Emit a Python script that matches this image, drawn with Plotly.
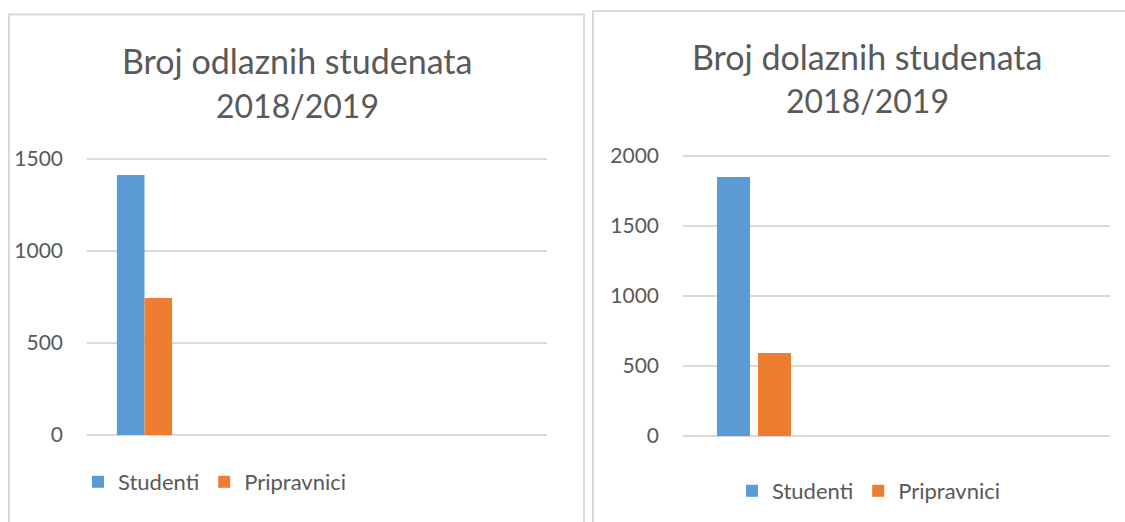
import plotly.graph_objects as go

W, H = 1125, 522

# ---- data ----
series_names = ["Studenti", "Pripravnici"]
left_title = ["Broj odlaznih studenata", "2018/2019"]
right_title = ["Broj dolaznih studenata", "2018/2019"]
category_pos = [0]                      # first (only filled) category slot
left_studenti = [1413]
left_pripravnici = [745]
right_studenti = [1850]
right_pripravnici = [593]
left_ticks = [0, 500, 1000, 1500]
right_ticks = [0, 500, 1000, 1500, 2000]

# ---- styles ----
BLUE = "#5B9BD5"
ORANGE = "#ED7D31"
TEXT = "#595959"
GRID = "#D9D9D9"
FONT = "Lato"


def px(x):
    return x / W


def py(y):
    return 1 - y / H


fig = go.Figure()
fig.add_trace(go.Bar(x=category_pos, y=left_studenti, name=series_names[0],
                     marker=dict(color=BLUE, line=dict(width=0)),
                     width=0.24, offset=-0.24, xaxis="x", yaxis="y", legend="legend"))
fig.add_trace(go.Bar(x=category_pos, y=left_pripravnici, name=series_names[1],
                     marker=dict(color=ORANGE, line=dict(width=0)),
                     width=0.24, offset=0.0, xaxis="x", yaxis="y", legend="legend"))
fig.add_trace(go.Bar(x=category_pos, y=right_studenti, name=series_names[0],
                     marker=dict(color=BLUE, line=dict(width=0)),
                     width=0.232, offset=-0.261, xaxis="x2", yaxis="y2", legend="legend2"))
fig.add_trace(go.Bar(x=category_pos, y=right_pripravnici, name=series_names[1],
                     marker=dict(color=ORANGE, line=dict(width=0)),
                     width=0.232, offset=0.027, xaxis="x2", yaxis="y2", legend="legend2"))

yax_common = dict(showgrid=True, gridcolor=GRID, gridwidth=1.5,
                  zeroline=True, zerolinecolor=GRID, zerolinewidth=1.5,
                  showline=False, ticks="", ticklabelstandoff=23, automargin=False,
                  tickfont=dict(family=FONT, size=21, color=TEXT), fixedrange=True)
xax_common = dict(visible=False, fixedrange=True, automargin=False)

legend_common = dict(orientation="h", xanchor="left", yanchor="middle",
                     font=dict(family=FONT, size=22, color=TEXT),
                     bgcolor="rgba(0,0,0,0)", itemclick=False, itemdoubleclick=False)

shape_line = dict(color=GRID, width=2)

title_font1 = dict(family=FONT, size=34, color=TEXT)
title_font2 = dict(family=FONT, size=32, color=TEXT)

fig.update_layout(
    width=W, height=H,
    margin=dict(l=0, r=0, t=0, b=0, pad=0, autoexpand=False),
    paper_bgcolor="white", plot_bgcolor="white",
    font=dict(family=FONT, color=TEXT),
    barmode="overlay",
    xaxis=dict(domain=[px(87), px(547)], range=[-0.5, 3.5], anchor="y", **xax_common),
    yaxis=dict(domain=[py(435), py(435 - 276 * 1510 / 1500)], range=[0, 1510],
               tickvals=left_ticks, anchor="x", **yax_common),
    xaxis2=dict(domain=[px(683), px(1110)], range=[-0.5, 2.5], anchor="y2", **xax_common),
    yaxis2=dict(domain=[py(436), py(436 - 280 * 2010 / 2000)], range=[0, 2010],
                tickvals=right_ticks, anchor="x2", **yax_common),
    legend=dict(x=px(78), y=py(482), **legend_common),
    legend2=dict(x=px(732), y=py(491), **legend_common),
    shapes=[
        dict(type="rect", xref="paper", yref="paper", x0=px(9), x1=px(584),
             y0=py(540), y1=py(14.5), line=shape_line, fillcolor="rgba(0,0,0,0)", layer="below"),
        dict(type="rect", xref="paper", yref="paper", x0=px(593), x1=px(1140),
             y0=py(540), y1=py(11), line=shape_line, fillcolor="rgba(0,0,0,0)", layer="below"),
    ],
    annotations=[
        dict(x=px(297), y=py(61), text=left_title[0], xref="paper", yref="paper",
             xanchor="center", yanchor="middle", showarrow=False, font=title_font1),
        dict(x=px(297), y=py(105), text=left_title[1], xref="paper", yref="paper",
             xanchor="center", yanchor="middle", showarrow=False, font=title_font2),
        dict(x=px(867), y=py(56), text=right_title[0], xref="paper", yref="paper",
             xanchor="center", yanchor="middle", showarrow=False, font=title_font1),
        dict(x=px(867), y=py(101), text=right_title[1], xref="paper", yref="paper",
             xanchor="center", yanchor="middle", showarrow=False, font=title_font2),
    ],
)

fig.write_html("out.html")
